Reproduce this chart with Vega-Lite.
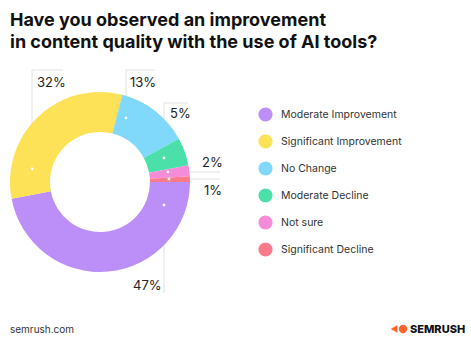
{
  "$schema": "https://vega.github.io/schema/vega-lite/v6.json",
  "width": 200,
  "height": 200,
  "autosize": {"type": "none"},
  "padding": {"left": 0, "top": 82, "right": 271, "bottom": 79},
  "background": "white",
  "config": {"view": {"stroke": null}, "font": "Inter"},
  "title": {
    "text": ["Have you observed an improvement", "in content quality with the use of AI tools?"],
    "anchor": "start",
    "frame": "group",
    "dx": 10,
    "offset": 18,
    "fontSize": 18,
    "font": "Inter",
    "fontWeight": 700,
    "color": "#111111",
    "lineHeight": 22
  },
  "datasets": {
    "slices": [
      {"answer": "Moderate Improvement", "pct": 47, "rank": 1},
      {"answer": "Significant Improvement", "pct": 32, "rank": 2},
      {"answer": "No Change", "pct": 13, "rank": 3},
      {"answer": "Moderate Decline", "pct": 5, "rank": 4},
      {"answer": "Not sure", "pct": 2, "rank": 5},
      {"answer": "Significant Decline", "pct": 1, "rank": 6}
    ],
    "leaders": [
      {"x": -6.8, "y": 1.3, "x2": -6.8, "y2": 11.2},
      {"x": -6.8, "y": 11.2, "x2": -3.7, "y2": 11.2},
      {"x": 2.6, "y": 6.4, "x2": 2.6, "y2": 11.2},
      {"x": 2.6, "y": 11.2, "x2": 5.5, "y2": 11.2},
      {"x": 6.4, "y": 2.4, "x2": 6.4, "y2": 7.9},
      {"x": 6.4, "y": 7.9, "x2": 8.8, "y2": 7.9},
      {"x": 6.8, "y": 1.0, "x2": 12.0, "y2": 1.0},
      {"x": 6.9, "y": 0.3, "x2": 12.0, "y2": 0.3},
      {"x": 6.4, "y": -2.3, "x2": 6.4, "y2": -11.1}
    ],
    "dots": [
      {"x": -6.8, "y": 1.3},
      {"x": 2.6, "y": 6.4},
      {"x": 6.4, "y": 2.4},
      {"x": 6.8, "y": 1.0},
      {"x": 6.9, "y": 0.3},
      {"x": 6.4, "y": -2.3}
    ],
    "labels": [
      {"label": "32%", "x": -6.3, "y": 9.5},
      {"label": "13%", "x": 3.0, "y": 9.5},
      {"label": "5%", "x": 7.0, "y": 6.4},
      {"label": "2%", "x": 10.2, "y": 1.5},
      {"label": "1%", "x": 10.4, "y": -1.3},
      {"label": "47%", "x": 3.3, "y": -10.8}
    ],
    "site": [{"label": "semrush.com", "x": -9.0, "y": -15.1}],
    "brand": [{"label": "SEMRUSH", "x": 31.0, "y": -15.1}],
    "logo": [{"x": 30.3, "y": -14.7}],
    "flame": [{"x": 29.4, "y": -14.7}]
  },
  "layer": [
    {
      "data": {"name": "leaders"},
      "mark": {"type": "rule", "color": "#e2e2e2", "strokeWidth": 1},
      "encoding": {
        "x": {"field": "x", "type": "quantitative", "scale": {"domain": [-10, 10]}, "axis": null},
        "y": {"field": "y", "type": "quantitative", "scale": {"domain": [-10, 10]}, "axis": null},
        "x2": {"field": "x2"},
        "y2": {"field": "y2"}
      }
    },
    {
      "data": {"name": "slices"},
      "mark": {"type": "arc", "innerRadius": 50, "outerRadius": 90},
      "encoding": {
        "theta": {"field": "pct", "type": "quantitative", "stack": true, "scale": {"range": [1.5708, 7.854]}},
        "order": {"field": "rank", "type": "quantitative"},
        "color": {
          "field": "answer",
          "type": "nominal",
          "sort": ["Moderate Improvement", "Significant Improvement", "No Change", "Moderate Decline", "Not sure", "Significant Decline"],
          "scale": {
            "domain": ["Moderate Improvement", "Significant Improvement", "No Change", "Moderate Decline", "Not sure", "Significant Decline"],
            "range": ["#BC8EF8", "#FDE257", "#80D8FA", "#4BDFAA", "#F68BD9", "#FC7A8A"]
          },
          "legend": {
            "orient": "none",
            "legendX": 258,
            "legendY": 25,
            "title": null,
            "symbolType": "circle",
            "symbolSize": 200,
            "symbolStrokeWidth": 0,
            "symbolOpacity": 1,
            "labelFontSize": 10.5,
            "labelColor": "#333333",
            "labelFont": "Inter",
            "rowPadding": 12,
            "labelOffset": 8,
            "padding": 0
          }
        }
      }
    },
    {
      "data": {"name": "dots"},
      "mark": {"type": "point", "filled": true, "color": "white", "size": 8, "opacity": 1},
      "encoding": {
        "x": {"field": "x", "type": "quantitative"},
        "y": {"field": "y", "type": "quantitative"}
      }
    },
    {
      "data": {"name": "labels"},
      "mark": {"type": "text", "align": "left", "baseline": "alphabetic", "fontSize": 13, "color": "#222222", "font": "Inter"},
      "encoding": {
        "x": {"field": "x", "type": "quantitative"},
        "y": {"field": "y", "type": "quantitative"},
        "text": {"field": "label"}
      }
    },
    {
      "data": {"name": "site"},
      "mark": {"type": "text", "align": "left", "baseline": "alphabetic", "fontSize": 10, "color": "#333333", "font": "Inter"},
      "encoding": {
        "x": {"field": "x", "type": "quantitative"},
        "y": {"field": "y", "type": "quantitative"},
        "text": {"field": "label"}
      }
    },
    {
      "data": {"name": "flame"},
      "mark": {"type": "point", "shape": "triangle-left", "filled": true, "color": "#FF642D", "size": 60, "opacity": 1},
      "encoding": {
        "x": {"field": "x", "type": "quantitative"},
        "y": {"field": "y", "type": "quantitative"}
      }
    },
    {
      "data": {"name": "logo"},
      "mark": {"type": "point", "shape": "circle", "filled": true, "color": "#FF642D", "size": 70, "opacity": 1},
      "encoding": {
        "x": {"field": "x", "type": "quantitative"},
        "y": {"field": "y", "type": "quantitative"}
      }
    },
    {
      "data": {"name": "brand"},
      "mark": {"type": "text", "align": "left", "baseline": "alphabetic", "fontSize": 11, "fontWeight": 800, "color": "#111111", "font": "Inter"},
      "encoding": {
        "x": {"field": "x", "type": "quantitative"},
        "y": {"field": "y", "type": "quantitative"},
        "text": {"field": "label"}
      }
    }
  ]
}
